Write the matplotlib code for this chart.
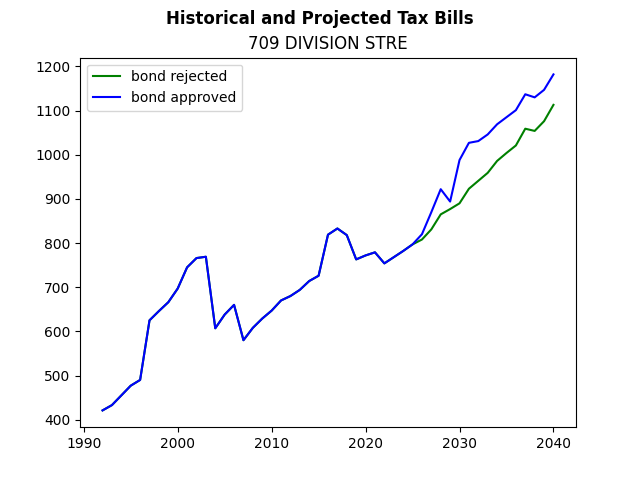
import numpy as np
import matplotlib
matplotlib.use("Agg")
import matplotlib.pyplot as plt

# years and tax bills
years = np.arange(1992, 2041)

bill_history = [421, 433, 455, 477, 490, 625, 646, 666, 697, 745,
                766, 769, 607, 638, 660, 580, 608, 629, 647, 670,
                680, 694, 714, 726, 819, 833, 818, 763, 772, 779,
                754, 768, 782, 797]

# projections from 2026 onward
bill_rejected = [808, 831, 865, 877, 890, 923, 941, 959, 986, 1004,
                 1021, 1059, 1054, 1076, 1113]
bill_approved = [820, 870, 922, 894, 988, 1027, 1031, 1046, 1069, 1085,
                 1101, 1137, 1130, 1147, 1182]

rejected = np.array(bill_history + bill_rejected)
approved = np.array(bill_history + bill_approved)

fig, ax = plt.subplots(figsize=(6.4, 4.8), dpi=100)
ax.plot(years, rejected, color='green', label='bond rejected')
ax.plot(years, approved, color='blue', label='bond approved')

fig.suptitle('Historical and Projected Tax Bills', fontweight='bold')
ax.set_title('709 DIVISION STRE')
ax.legend(loc='upper left')

fig.savefig('out.png')
